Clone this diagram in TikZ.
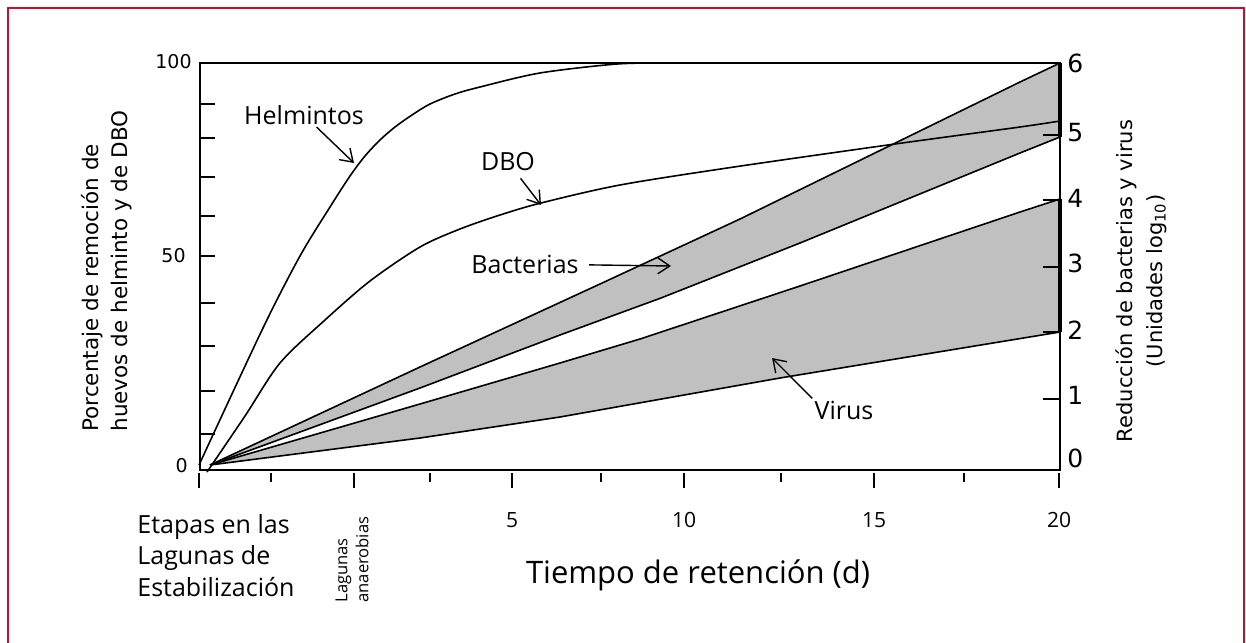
\documentclass[tikz,border=0pt]{standalone}
\usepackage{fontspec}
\setmainfont{Open Sans}
\newfontfamily\axisfont{DejaVu Sans}
\usetikzlibrary{arrows.meta}
\definecolor{frameRed}{RGB}{200,16,46}
\definecolor{bandGray}{RGB}{192,192,192}

\begin{document}
\begin{tikzpicture}[x=0.5pt,y=-0.5pt,
                    curveline/.style={line width=0.8pt},
                    tickline/.style={line width=1pt},
                    pointer/.style={line width=0.7pt,-{Straight Barb[length=6pt,width=8pt]}},
                    curvelabel/.style={font=\fontsize{12.5}{15}\selectfont,inner sep=1pt},
                    leftnum/.style={font=\axisfont\fontsize{9.5}{11}\selectfont,inner sep=0pt,anchor=east},
                    rightnum/.style={font=\axisfont\fontsize{12.5}{14}\selectfont,inner sep=0pt,anchor=west},
                    daynum/.style={font=\fontsize{10.5}{12}\selectfont,inner sep=0pt}]

                    \useasboundingbox (0,0) rectangle (1246,642);
                    \draw[frameRed, line width=1.3pt] (8,680) -- (8,8) -- (1244,8) -- (1244,680);

                    \fill[bandGray] (210,465) -- (420,367) -- (600,284) -- (740,219) -- (1020,82) -- (1060,63)
                        -- (1060,137) -- (1020,153) -- (800,243) -- (661,298) -- (560,335) -- (420,388) -- cycle;
                    \fill[bandGray] (210,465) -- (420,404) -- (560,363) -- (640,339) -- (800,286) -- (1020,212) -- (1060,199)
                        -- (1060,332) -- (780,378) -- (560,417) -- (420,438) -- cycle;

                    \draw[line width=1pt] (200,63) rectangle (1060,470);

                    \draw[tickline] (200,104) -- (215,104);
                    \draw[tickline] (200,138) -- (215,138);
                    \draw[tickline] (200,177) -- (215,177);
                    \draw[tickline] (200,216) -- (215,216);
                    \draw[tickline] (200,256) -- (215,256);
                    \draw[tickline] (200,303) -- (215,303);
                    \draw[tickline] (200,346) -- (215,346);
                    \draw[tickline] (200,391) -- (215,391);
                    \draw[tickline] (200,434) -- (215,434);

                    \draw[tickline] (1043,135) -- (1060,135);
                    \draw[tickline] (1043,200) -- (1060,200);
                    \draw[tickline] (1043,267) -- (1060,267);
                    \draw[tickline] (1043,332) -- (1060,332);
                    \draw[tickline] (1043,399) -- (1060,399);

                    \draw[tickline] (199,473) -- (199,488);
                    \draw[tickline] (271,473) -- (271,482);
                    \draw[tickline] (354,473) -- (354,488);
                    \draw[tickline] (430,473) -- (430,482);
                    \draw[tickline] (512,473) -- (512,488);
                    \draw[tickline] (601,473) -- (601,482);
                    \draw[tickline] (684,473) -- (684,488);
                    \draw[tickline] (781,473) -- (781,482);
                    \draw[tickline] (874,473) -- (874,488);
                    \draw[tickline] (964,473) -- (964,482);
                    \draw[tickline] (1059,473) -- (1059,488);

                    \draw[curveline] plot[smooth] coordinates {(199,465) (263,328) (300,256) (330,207) (350,176) (365,156) (380,140) (395,127) (412,115) (430,104) (455,94) (480,87) (540,73) (617,64) (670,63)};
                    \draw[curveline] plot[smooth] coordinates {(207,472) (245,416) (280,363) (325,320) (370,281) (420,247) (460,229) (500,215) (541,203) (620,185) (734,167) (895,144) (1020,127) (1060,121)};

                    \draw[curveline] (210,465) -- (420,367) -- (600,284) -- (740,219) -- (1020,82) -- (1060,63);
                    \draw[curveline] (210,465) -- (420,388) -- (560,335) -- (661,298) -- (800,243) -- (1020,153) -- (1060,137);
                    \draw[curveline] (210,465) -- (420,404) -- (560,363) -- (640,339) -- (800,286) -- (1020,212) -- (1060,199);
                    \draw[curveline] (210,465) -- (420,438) -- (560,417) -- (780,378) -- (1060,332);
                    \draw[line width=1.6pt] (1060,63) -- (1060,137);
                    \draw[line width=1.6pt] (1060,199) -- (1060,332);

                    \node[curvelabel] (helm) at (304,115) {Helmintos};
                    \coordinate (helmTip) at (354,163);
                    \draw[pointer] (helm) -- (helmTip);

                    \node[curvelabel] (dbo) at (508,162) {DBO};
                    \coordinate (dboTip) at (541,205);
                    \draw[pointer, shorten <=3pt] (dbo) -- (dboTip);

                    \node[curvelabel] (bact) at (525,264) {Bacterias};
                    \coordinate (bactTip) at (671,266);
                    \draw[pointer, shorten <=4pt] (bact) -- (bactTip);

                    \node[curvelabel] (virus) at (844,410) {Virus};
                    \coordinate (virusTip) at (772,358);
                    \draw[pointer] (virus.north west) -- (virusTip);

                    \node[leftnum] (y100) at (192,62) {100};
                    \node[leftnum] (y50) at (186,256) {50};
                    \node[leftnum] (y0) at (188,466) {0};

                    \node[rightnum] (r6) at (1067,63) {6};
                    \node[rightnum] (r5) at (1067,133) {5};
                    \node[rightnum] (r4) at (1067,198) {4};
                    \node[rightnum] (r3) at (1067,263) {3};
                    \node[rightnum] (r2) at (1067,330) {2};
                    \node[rightnum] (r1) at (1067,395) {1};
                    \node[rightnum] (r0) at (1067,458) {0};

                    \node[daynum] (d5) at (512,520) {5};
                    \node[daynum] (d10) at (684,520) {10};
                    \node[daynum] (d15) at (874,520) {15};
                    \node[daynum] (d20) at (1059,520) {20};

                    \node[font=\fontsize{15.5}{18}\selectfont] (tiempo) at (698,575) {Tiempo de retención (d)};

                    \node[font=\fontsize{12.5}{15.75}\selectfont, align=left, anchor=north west, inner sep=0pt] (etapas) at (137,514)
                        {Etapas en las\\Lagunas de\\Estabilización};
                    \node[font=\fontsize{8.3}{10.5}\selectfont, align=left, anchor=west, rotate=90, inner sep=0pt] (anaer) at (352,603)
                        {Lagunas\\anaerobias};

                    \node[font=\axisfont\fontsize{10.75}{14.5}\selectfont, align=left, anchor=west, rotate=90, inner sep=0pt] (ytitle) at (107,432)
                        {Porcentaje de remoción de\\huevos de helminto y de DBO};
                    \node[font=\axisfont\fontsize{10.5}{15}\selectfont, align=center, rotate=90, inner sep=0pt] (rtitle) at (1141,281)
                        {Reducción de bacterias y virus\\(Unidades log\textsubscript{10})};

                \end{tikzpicture}
\end{document}
